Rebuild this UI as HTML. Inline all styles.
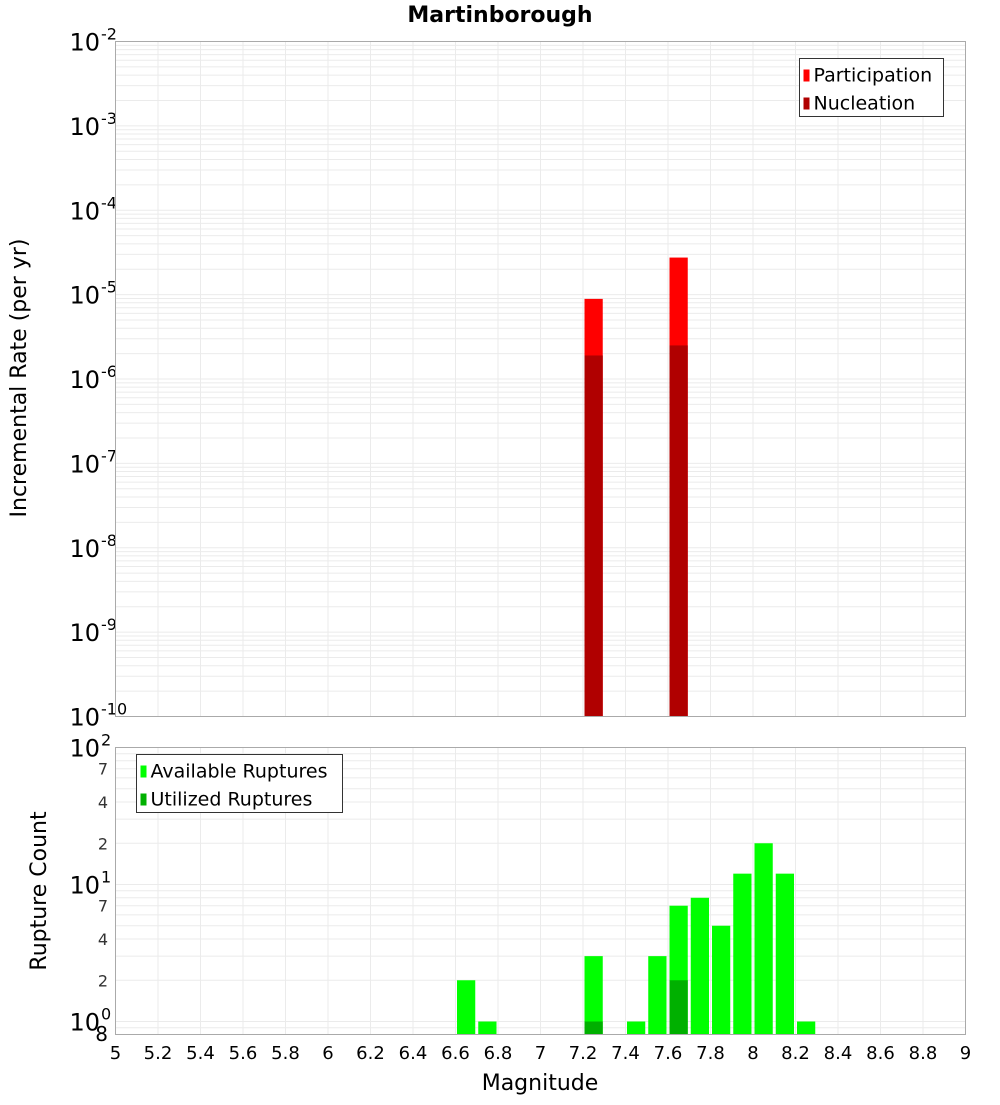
<!DOCTYPE html>
<html><head><meta charset="utf-8"><style>
body{margin:0;background:#fff}
svg text{font-family:"DejaVu Sans","Liberation Sans",sans-serif}
</style></head><body>
<svg id="c" width="1000" height="1100" xmlns="http://www.w3.org/2000/svg">
<text x="500" y="22" text-anchor="middle" font-size="22" font-weight="bold">Martinborough</text>
<g id="topPanel"></g>
<g id="botPanel"></g>
<text transform="translate(26,378) rotate(-90)" text-anchor="middle" font-size="22">Incremental Rate (per yr)</text>
<text transform="translate(46,891) rotate(-90)" text-anchor="middle" font-size="22">Rupture Count</text>
<text x="540" y="1090" text-anchor="middle" font-size="22">Magnitude</text>
</svg>
<script>
const mags = [7.25, 7.65];
const participation = [8.9e-6, 2.75e-5];
const nucleation = [1.9e-6, 2.5e-6];
const countMags = [6.65, 6.75, 7.25, 7.45, 7.55, 7.65, 7.75, 7.85, 7.95, 8.05, 8.15, 8.25];
const available = [2, 1, 3, 1, 3, 7, 8, 5, 12, 20, 12, 1];
const utilMags = [7.25, 7.65];
const utilized = [1, 2];
const xTicks = ["5","5.2","5.4","5.6","5.8","6","6.2","6.4","6.6","6.8","7","7.2","7.4","7.6","7.8","8","8.2","8.4","8.6","8.8","9"];

const NS="http://www.w3.org/2000/svg";
function mk(p,t,a){const e=document.createElementNS(NS,t);for(const k in a)e.setAttribute(k,a[k]);p.appendChild(e);return e;}
const L=115.5,R=965.5;
const xs=m=>L+(m-5)/4*(R-L);
const T1=41.5,B1=716.5;
const y1=v=>T1+(-2-Math.log10(v))/8*(B1-T1);
const T2=747.5,B2=1034.5;
const ppd=(1021.5-747.5)/2;
const y2=v=>T2+(2-Math.log10(v))*ppd;
const topG=document.getElementById('topPanel'),botG=document.getElementById('botPanel');
const svgC=document.getElementById('c');

function grid(g,T,B,yf,lo,hi){
  for(let d=lo;d<hi;d++)for(let k=1;k<10;k++){const v=k*Math.pow(10,d);const yy=yf(v);if(yy<T-0.1||yy>B+0.1)continue;
    const l=mk(g,'line',{x1:L,x2:R,y1:yy,y2:yy,stroke:'#ebebeb','stroke-width':1});
    
    }
  for(let i=1;i<20;i++){const xx=xs(5+i*0.2);
    const l=mk(g,'line',{x1:xx,x2:xx,y1:T,y2:B,stroke:'#ebebeb','stroke-width':1});
    
    }
}
grid(topG,T1,B1,y1,-10,-1);
grid(botG,T2,B2,y2,-1,2);

function bar(g,m,v,yf,B,fill,name){
  const r=mk(g,'rect',{x:xs(m-0.05)+1.5,y:yf(v),width:xs(m+0.05)-xs(m-0.05)-3,height:B-yf(v),fill:fill});
  
  
}
mags.forEach((m,i)=>bar(topG,m,participation[i],y1,B1,'#ff0000','participation-bar'));
mags.forEach((m,i)=>bar(topG,m,nucleation[i],y1,B1,'#b00000','nucleation-bar'));
countMags.forEach((m,i)=>bar(botG,m,available[i],y2,B2,'#00ff00','available-bar'));
utilMags.forEach((m,i)=>bar(botG,m,utilized[i],y2,B2,'#00b000','utilized-bar'));

[[T1,B1],[T2,B2]].forEach(([T,B])=>{const f=mk(svgC,'rect',{x:L,y:T,width:R-L,height:B-T,fill:'none',stroke:'#aaa','stroke-width':1});
  
  });

for(let d=-2;d>=-10;d--){const yy=y1(Math.pow(10,d));
  const t=mk(topG,'text',{x:100,y:yy+9,'text-anchor':'end','font-size':24});t.textContent='10';
  
  
  const e=mk(topG,'text',{x:101,y:yy-2,'font-size':16});e.textContent=String(d);
  
  }
[[100,'2'],[10,'1'],[1,'0']].forEach(([v,ex])=>{const yy=y2(v);
  const t=mk(botG,'text',{x:100,y:yy+9,'text-anchor':'end','font-size':24});t.textContent='10';
  
  
  const e=mk(botG,'text',{x:101,y:yy-2,'font-size':16});e.textContent=ex;
  
  });
[[70,'7'],[40,'4'],[20,'2'],[7,'7'],[4,'4'],[2,'2']].forEach(([v,s])=>{const yy=y2(v);
  const t=mk(botG,'text',{x:108,y:yy+6,'text-anchor':'end','font-size':16,fill:'#333'});t.textContent=s;
  
  });
{const t=mk(botG,'text',{x:108,y:1041,'text-anchor':'end','font-size':20});t.textContent='8';
 
 }
xTicks.forEach(s=>{const t=mk(botG,'text',{x:xs(parseFloat(s)),y:1059,'text-anchor':'middle','font-size':18});t.textContent=s;
  
  });

function legend(g,bx,by,w,items,name){
  const b=mk(g,'rect',{x:bx,y:by,width:w,height:58,fill:'#fff',stroke:'#333','stroke-width':1});
  
  
  items.forEach(([c,s],i)=>{
    const sw=mk(g,'rect',{x:bx+4,y:by+11+i*28,width:6,height:12,fill:c});
    
    
    const t=mk(g,'text',{x:bx+14,y:by+23+i*28,'font-size':19});t.textContent=s;
    
    });
}
legend(topG,799.5,58.5,144,[['#ff0000','Participation'],['#b00000','Nucleation']],'rate-legend');
legend(botG,136.5,754.5,206,[['#00ff00','Available Ruptures'],['#00b000','Utilized Ruptures']],'count-legend');
</script>
</body></html>
